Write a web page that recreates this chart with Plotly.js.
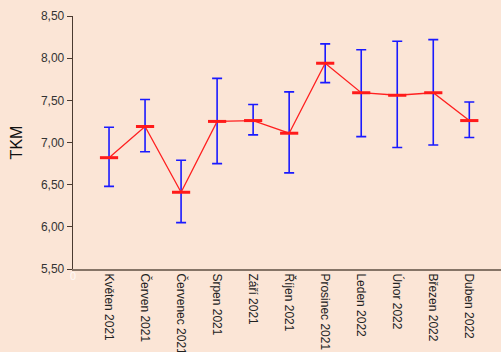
<!DOCTYPE html>
<html>
<head>
<meta charset="utf-8">
<script src="https://cdn.plot.ly/plotly-3.0.1.min.js"></script>
<style>html,body{margin:0;padding:0;background:#fbe5d6;}#chart{width:501px;height:352px;}</style>
</head>
<body>
<div id="chart"></div>
<script>
var categories = ["Květen 2021","Červen 2021","Červenec 2021","Srpen 2021","Září 2021","Říjen 2021","Prosinec 2021","Leden 2022","Únor 2022","Březen 2022","Duben 2022"];
var positions = [1,2,3,4,5,6,7,8,9,10,11];
var means = [6.82,7.19,6.41,7.25,7.26,7.11,7.94,7.59,7.56,7.59,7.26];
var upper = [7.18,7.51,6.79,7.76,7.45,7.60,8.17,8.10,8.20,8.22,7.48];
var lower = [6.48,6.89,6.05,6.75,7.09,6.64,7.71,7.07,6.94,6.97,7.06];
var yTicks = [5.5,6.0,6.5,7.0,7.5,8.0,8.5];

var plus = means.map(function(m,i){return upper[i]-m;});
var minus = means.map(function(m,i){return m-lower[i];});

var traces = [
  {x: positions, y: means, type:'scatter', mode:'lines', line:{color:'#ff2020', width:1.3}, hoverinfo:'skip',
   error_y:{type:'data', symmetric:false, array:plus, arrayminus:minus, color:'#1a1aff', thickness:1.6, width:5}},
  {x: positions, y: means, type:'scatter', mode:'markers',
   marker:{symbol:'line-ew', size:13, line:{color:'#ff1a1a', width:3}}}
];

var layout = {
  width:501, height:352,
  paper_bgcolor:'#fbe5d6', plot_bgcolor:'#fbe5d6',
  margin:{l:73, r:0, t:16, b:83},
  showlegend:false,
  separators:', ',
  font:{family:'Liberation Sans, Arial, sans-serif', color:'#333333'},
  xaxis:{range:[0,11.88], tickmode:'array', tickvals:positions, ticktext:categories,
    tickangle:90, ticks:'', showgrid:false, zeroline:false, showline:true,
    linecolor:'#857467', linewidth:2, tickfont:{size:12, color:'#222222'}},
  yaxis:{range:[5.5,8.5], tickmode:'array', tickvals:yTicks, tickformat:'.2f',
    ticks:'outside', ticklen:5, tickcolor:'#4a3a30', showgrid:false, zeroline:false,
    showline:true, linecolor:'#4a3a30', linewidth:1.3, tickfont:{size:12, color:'#333333'},
    title:{text:'TKM', font:{size:16, color:'#111111'}, standoff:14}},
  annotations:[{x:0, y:0, xref:'x', yref:'paper', yshift:-15, text:'0', showarrow:false,
    font:{size:11, color:'#ffffff'}, opacity:0.8}]
};
Plotly.newPlot('chart', traces, layout, {displayModeBar:false, staticPlot:true});
</script>
</body>
</html>
